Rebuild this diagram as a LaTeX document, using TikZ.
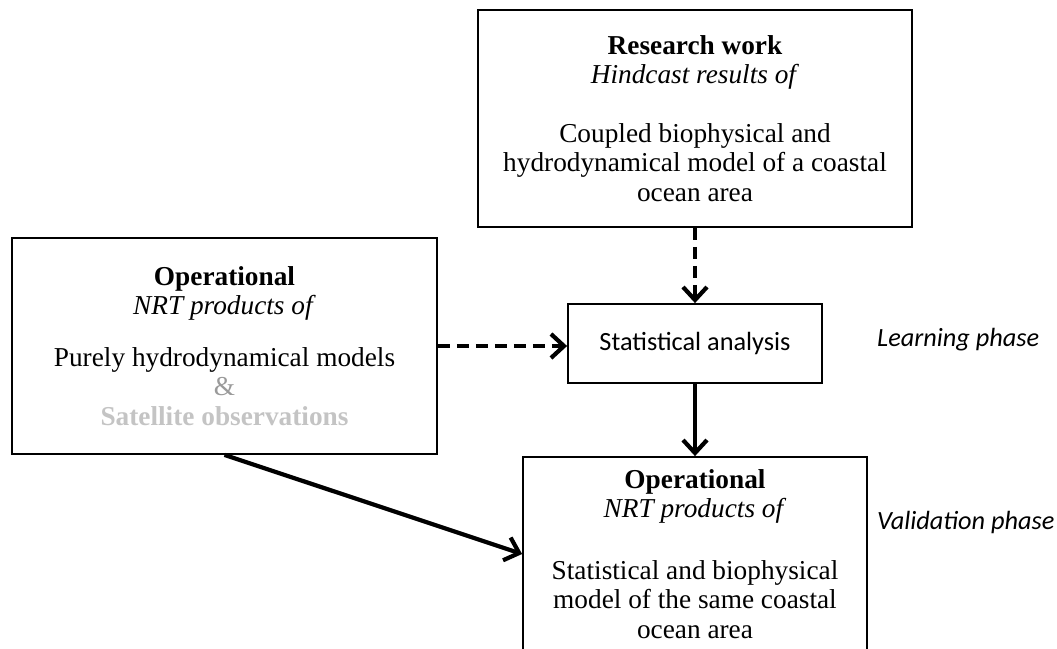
\documentclass[tikz,border=0pt]{standalone}
\usepackage{fontspec}
\setmainfont{Liberation Serif}
\newfontfamily\calibri{Carlito}
\usetikzlibrary{arrows.meta}
\definecolor{ampgray}{HTML}{9A9A9A}
\definecolor{satgray}{HTML}{C4C4C4}
\tikzset{
  x=1pt, y=-1pt,
  boxnode/.style={draw, line width=1.8pt, align=center, inner sep=0pt,
    font=\fontsize{27.3}{29.5}\selectfont},
  conn/.style={line width=4.2pt, -{Straight Barb[length=13pt,width=24pt,line width=4.2pt]}},
  dashconn/.style={conn, dash pattern=on 12pt off 7pt},
  phase/.style={font=\calibri\itshape\fontsize{26.3}{29}\selectfont, anchor=west, inner sep=0pt}
}
\begin{document}
\begin{tikzpicture}
\useasboundingbox (0,0) rectangle (1057,648);
\node[boxnode, minimum width=434pt, minimum height=217pt] (R) at (695,118.5)
  {\textbf{Research work}\\ \textit{Hindcast results of}\\[29pt]
   Coupled biophysical and\\ hydrodynamical model of a coastal\\ ocean area};
\node[boxnode, minimum width=425pt, minimum height=216pt] (L) at (224.5,346)
  {\textbf{Operational}\\ \textit{NRT products of}\\[22pt]
   Purely hydrodynamical models\\ \textcolor{ampgray}{\&}\\ \textcolor{satgray}{\textbf{Satellite observations}}};
\node[boxnode, minimum width=254pt, minimum height=79pt, font=\calibri\fontsize{26.3}{29}\selectfont] (S) at (695,343.5)
  {Statistical analysis};
\node[boxnode, minimum width=344pt, minimum height=194pt] (B) at (695,554)
  {\textbf{Operational}\\ \textit{NRT products of}\\[32pt]
   Statistical and biophysical\\ model of the same coastal\\ ocean area};
\node[phase] (LP) at (877,340) {Learning phase};
\node[phase] (VP) at (877,522) {Validation phase};
\draw[dashconn] (R.south) -- (S.north);
\draw[dashconn] (L.east) -- (L.east -| S.west);
\draw[conn] (S.south) -- (B.north);
\draw[conn] (L.south) -- (B.west);
\end{tikzpicture}
\end{document}
